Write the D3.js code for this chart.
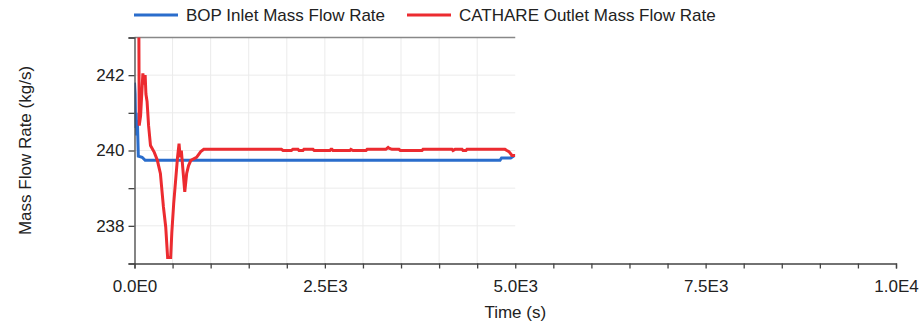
<!DOCTYPE html>
<html>
<head>
<meta charset="utf-8">
<script src="https://cdn.jsdelivr.net/npm/d3@7"></script>
<style>
  html, body { margin: 0; padding: 0; background: #fff; }
  svg { display: block; font-family: "Liberation Sans", Arial, sans-serif; }
</style>
</head>
<body>
<svg id="chart" width="922" height="322"></svg>
<script>
// ---- data ----------------------------------------------------------------
const seriesNames = ["BOP Inlet Mass Flow Rate", "CATHARE Outlet Mass Flow Rate"];
const seriesColors = ["#2a6dcc", "#ec2b30"];

// BOP inlet mass flow rate (kg/s) vs time (s)
const bopTime = [0, 8, 15, 22, 30, 38, 50, 100, 140, 1000, 2000, 3000, 4000, 4800, 4820, 4940, 4990, 5000];
const bopFlow = [241.8, 241.5, 240.6, 241.0, 240.4, 240.8, 239.85, 239.82, 239.74, 239.74, 239.74, 239.74, 239.74, 239.74, 239.8, 239.8, 239.87, 239.87];

// CATHARE outlet mass flow rate (kg/s) vs time (s)
const cathTime = [55, 62, 80, 110, 125, 140, 150, 165, 185, 210, 260, 300, 340, 380, 410, 435, 475,
  490, 515, 540, 565, 585, 600, 615, 640, 660, 685, 710, 740, 815, 870, 910,
  1000, 1400, 1930, 1950, 2060, 2080, 2147, 2160, 2212, 2225, 2344, 2360, 2567, 2580, 2593, 2606,
  2829, 2842, 2869, 3040, 3055, 3184, 3300, 3330, 3342, 3381, 3473, 3490, 3775, 3789,
  4169, 4182, 4209, 4301, 4314, 4353, 4366, 4865, 4890, 4917, 4957, 4983, 5000];
const cathFlow = [244.5, 240.66, 240.92, 242.05, 241.75, 242.0, 241.5, 241.3, 240.66, 240.13, 239.95, 239.74, 239.39, 238.5, 237.97, 237.16, 237.16,
  237.82, 238.6, 239.21, 239.82, 240.18, 239.82, 240.0, 239.39, 238.9, 239.39, 239.6, 239.74, 239.82, 239.97, 240.03,
  240.03, 240.03, 240.03, 240.0, 240.0, 240.03, 240.03, 240.0, 240.0, 240.03, 240.03, 240.0, 240.0, 240.03, 240.03, 240.0,
  240.0, 240.03, 240.0, 240.0, 240.03, 240.03, 240.03, 240.08, 240.06, 240.03, 240.03, 240.0, 240.0, 240.03,
  240.03, 240.0, 240.03, 240.03, 240.0, 240.0, 240.03, 240.03, 240.0, 239.97, 239.87, 239.87, 239.87];

// axis ticks
const xTicks = d3.range(0, 10001, 500);
const xLabels = [0, 2500, 5000, 7500, 10000];
const yTicks = [237, 238, 239, 240, 241, 242, 243];
const yLabels = [238, 240, 242];
const xDomain = [0, 10000];
const yDomain = [237, 243];
const plotEnd = 5000;   // plotted region on the time axis

// ---- layout --------------------------------------------------------------
const svg = d3.select("#chart");
const x = d3.scaleLinear().domain(xDomain).range([134.5, 896]);
const y = d3.scaleLinear().domain(yDomain).range([263.5, 37.5]);
const textColor = "#222";
const fontSize = 17;

svg.append("rect").attr("width", 922).attr("height", 322).attr("fill", "#fff");

svg.append("defs").append("clipPath").attr("id", "plot-clip")
  .append("rect")
  .attr("x", x(0)).attr("y", y(yDomain[1]))
  .attr("width", x(plotEnd) - x(0)).attr("height", y(yDomain[0]) - y(yDomain[1]));

// grid inside the plotted region
const grid = svg.append("g").attr("stroke", "#ebebeb").attr("stroke-width", 1);
grid.selectAll("line.v").data(xTicks.filter(t => t > 0 && t < plotEnd)).join("line")
  .attr("class", "v")
  .attr("x1", d => x(d)).attr("x2", d => x(d))
  .attr("y1", y(yDomain[0])).attr("y2", y(yDomain[1]));
grid.selectAll("line.h").data(yTicks.filter(t => t > yDomain[0] && t < yDomain[1])).join("line")
  .attr("class", "h")
  .attr("x1", x(0)).attr("x2", x(plotEnd))
  .attr("y1", d => y(d)).attr("y2", d => y(d));

// top border of plotted region
svg.append("line")
  .attr("x1", x(0)).attr("x2", x(plotEnd))
  .attr("y1", y(yDomain[1])).attr("y2", y(yDomain[1]))
  .attr("stroke", "#888").attr("stroke-width", 1.5);

// series lines
const line = d3.line().x(d => x(d[0])).y(d => y(d[1]));
const lines = svg.append("g").attr("clip-path", "url(#plot-clip)");
const seriesData = [
  d3.zip(bopTime, bopFlow),
  d3.zip(cathTime, cathFlow)
];
lines.selectAll("path").data(seriesData).join("path")
  .attr("d", line)
  .attr("fill", "none")
  .attr("stroke", (d, i) => seriesColors[i])
  .attr("stroke-width", 3)
  .attr("stroke-linejoin", "miter")
  .attr("stroke-miterlimit", 4);

// axes
const xAxis = d3.axisBottom(x).tickValues(xTicks).tickSize(5).tickPadding(11)
  .tickFormat(d => xLabels.includes(d) ? d3.format(".1e")(d).toUpperCase().replace("+", "") : "");
const gx = svg.append("g").attr("transform", `translate(0,${y(yDomain[0])})`).call(xAxis);

const yAxis = d3.axisLeft(y).tickValues(yTicks).tickSize(6).tickPadding(4)
  .tickFormat(d => yLabels.includes(d) ? d3.format("d")(d) : "");
const gy = svg.append("g").attr("transform", `translate(${x(0)},0)`).call(yAxis);

[gx, gy].forEach(g => {
  g.select(".domain").attr("stroke", "#444").attr("stroke-width", 1.3);
  g.selectAll(".tick line").attr("stroke", "#444").attr("stroke-width", 1.3);
  g.selectAll(".tick text").attr("fill", textColor)
    .style("font-size", fontSize + "px")
    .style("font-family", '"Liberation Sans", Arial, sans-serif');
});

// axis titles
svg.append("text")
  .attr("x", (x.range()[0] + x.range()[1]) / 2).attr("y", 318)
  .attr("text-anchor", "middle").attr("fill", textColor)
  .style("font-size", fontSize + "px")
  .text("Time (s)");
svg.append("text")
  .attr("transform", `translate(31,${(y.range()[0] + y.range()[1]) / 2}) rotate(-90)`)
  .attr("text-anchor", "middle").attr("fill", textColor)
  .style("font-size", fontSize + "px")
  .text("Mass Flow Rate (kg/s)");

// legend
const legendX = [134, 407];
const legend = svg.append("g");
seriesNames.forEach((name, i) => {
  const g = legend.append("g").attr("transform", `translate(${legendX[i]},15)`);
  g.append("line").attr("x1", 0).attr("x2", 44).attr("y1", 0).attr("y2", 0)
    .attr("stroke", seriesColors[i]).attr("stroke-width", 3);
  g.append("text").attr("x", 52).attr("y", 6).attr("fill", textColor)
    .style("font-size", fontSize + "px").text(name);
});
</script>
</body>
</html>
